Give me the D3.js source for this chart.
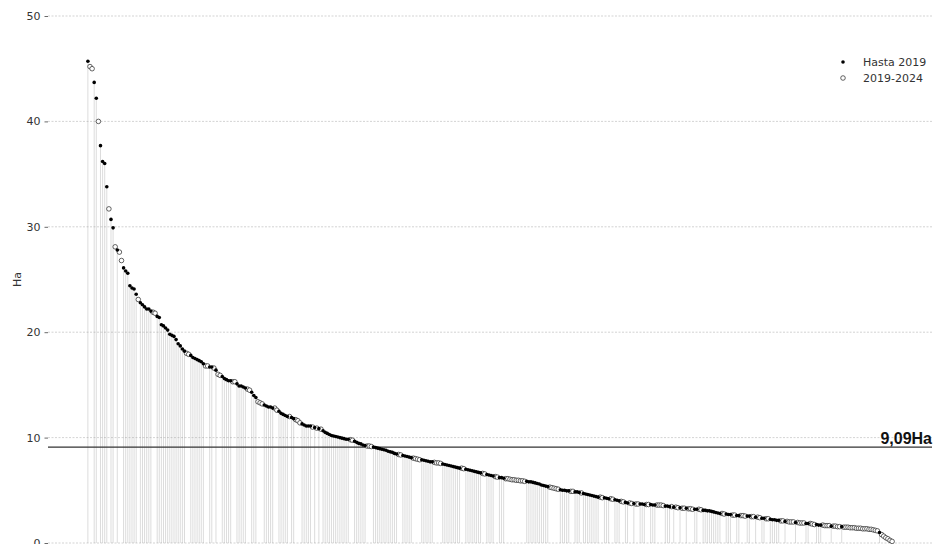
<!DOCTYPE html>
<html>
<head>
<meta charset="utf-8">
<script src="https://cdn.jsdelivr.net/npm/d3@7"></script>
<style>
  body { margin: 0; background: #fff; }
  #chart { width: 945px; height: 544px; }
  .chart-labels { font-family: "DejaVu Sans", sans-serif; font-size: 11px; fill: #333; }
</style>
</head>
<body>
<div id="chart"></div>
<script>
/* ----------------------- Data ----------------------- */
// Surface of each parcel in Ha, sorted descending
const areaHa = [
  45.7,45.2,45.0,43.7,42.2,40.0,37.7,36.2,36.0,33.8,
  31.7,30.7,29.9,28.1,27.8,27.6,26.8,26.1,25.8,25.6,
  24.4,24.2,24.1,23.6,23.1,22.8,22.6,22.4,22.2,22.2,
  22.0,21.9,21.8,21.5,21.4,20.7,20.6,20.4,20.2,19.8,
  19.7,19.6,19.3,18.9,18.7,18.4,18.2,18.0,17.9,17.8,
  17.6,17.5,17.4,17.3,17.2,17.0,16.8,16.8,16.7,16.7,
  16.6,16.4,16.0,15.9,15.8,15.6,15.5,15.4,15.4,15.3,
  15.3,15.1,14.9,14.9,14.8,14.7,14.6,14.5,14.3,14.0,
  13.8,13.4,13.3,13.2,13.1,13.0,12.9,12.9,12.8,12.8,
  12.6,12.5,12.3,12.2,12.1,12.0,12.0,11.9,11.8,11.7,
  11.6,11.4,11.3,11.2,11.1,11.1,11.1,11.0,10.95,10.9,
  10.85,10.8,10.65,10.5,10.4,10.3,10.2,10.15,10.1,10.05,
  10.0,9.95,9.9,9.85,9.85,9.8,9.75,9.65,9.55,9.45,
  9.4,9.3,9.25,9.2,9.2,9.15,9.1,9.05,9.0,8.95,
  8.9,8.85,8.8,8.7,8.65,8.6,8.5,8.45,8.4,8.35,
  8.3,8.25,8.2,8.15,8.1,8.05,8.0,7.95,7.9,7.9,
  7.85,7.8,7.75,7.7,7.7,7.65,7.6,7.6,7.55,7.5,
  7.45,7.4,7.35,7.3,7.25,7.2,7.15,7.1,7.1,7.05,
  7.0,6.95,6.9,6.85,6.8,6.75,6.7,6.65,6.6,6.55,
  6.5,6.45,6.4,6.35,6.3,6.25,6.2,6.2,6.15,6.1,
  6.1,6.05,6.0,6.0,5.95,5.95,5.9,5.9,5.85,5.85,
  5.8,5.8,5.75,5.7,5.65,5.6,5.5,5.45,5.4,5.35,
  5.3,5.25,5.2,5.15,5.1,5.05,5.0,5.0,4.95,4.95,
  4.9,4.9,4.85,4.85,4.8,4.75,4.7,4.65,4.6,4.55,
  4.5,4.45,4.4,4.35,4.35,4.3,4.3,4.25,4.2,4.2,
  4.15,4.1,4.05,4.0,3.95,3.9,3.85,3.8,3.8,3.75,
  3.75,3.7,3.7,3.7,3.7,3.65,3.65,3.65,3.65,3.6,
  3.6,3.6,3.6,3.6,3.55,3.5,3.5,3.45,3.45,3.4,
  3.4,3.35,3.35,3.3,3.3,3.3,3.25,3.25,3.2,3.2,
  3.2,3.2,3.15,3.1,3.1,3.05,3.05,3.0,2.95,2.9,
  2.85,2.8,2.8,2.75,2.75,2.7,2.7,2.65,2.65,2.6,
  2.6,2.6,2.6,2.55,2.55,2.55,2.5,2.5,2.45,2.45,
  2.4,2.35,2.35,2.3,2.3,2.25,2.2,2.2,2.15,2.15,
  2.1,2.1,2.05,2.05,2.0,2.0,2.0,1.95,1.95,1.9,
  1.9,1.9,1.85,1.85,1.85,1.8,1.75,1.75,1.7,1.7,
  1.7,1.65,1.65,1.65,1.6,1.6,1.6,1.55,1.55,1.55,
  1.5,1.5,1.5,1.45,1.45,1.45,1.4,1.4,1.4,1.35,
  1.35,1.35,1.3,1.3,1.25,1.2,1.15,1.0,0.8,0.65,
  0.5,0.4,0.25,0.15
];

// 1 = "Hasta 2019", 0 = "2019-2024"
const hasta2019 = [
  1,0,0,1,1,0,1,1,1,1, 0,1,1,0,1,0,0,1,1,1, 1,1,1,1,0,1,1,1,1,1, 1,0,0,1,1,1,1,1,1,1,
  1,1,1,1,1,1,1,0,0,1, 1,1,1,1,1,1,0,0,1,1, 0,1,0,0,1,1,1,1,1,0, 0,1,1,1,1,1,0,0,1,1,
  1,0,0,0,1,1,1,1,1,0, 0,1,1,1,1,1,0,1,1,0, 0,0,1,1,1,1,1,0,1,0, 1,0,1,1,1,1,1,1,1,1,
  1,1,1,1,1,0,0,1,1,1, 1,1,1,0,0,0,1,1,1,1, 1,1,1,1,1,1,1,1,0,0, 1,1,1,1,1,0,0,0,0,1,
  1,1,1,1,1,0,0,0,0,1, 1,1,1,1,1,1,1,1,0,0, 1,1,1,1,1,1,1,1,0,0, 1,1,1,1,0,0,1,1,1,0,
  0,0,0,0,0,0,0,0,0,1, 1,1,1,1,1,1,1,1,1,1, 0,0,0,0,0,1,1,1,1,1, 0,0,1,1,1,0,1,1,1,1,
  1,1,1,1,0,0,1,1,1,0, 0,1,1,1,0,0,1,1,0,0, 1,0,0,1,1,1,0,0,1,1, 1,0,0,0,0,1,1,1,0,1,
  0,0,1,0,0,1,0,0,0,1, 1,0,0,1,1,1,1,1,1,1, 1,1,0,0,1,1,1,0,0,1, 1,0,0,0,1,1,0,0,1,0,
  0,1,1,0,0,1,1,1,1,1, 0,0,1,0,0,0,0,1,0,0, 0,0,1,1,0,0,0,1,1,1, 0,0,0,0,1,0,0,0,0,1,
  0,0,0,0,0,0,0,0,0,0, 0,0,0,0,0,0,0,1,0,0, 0,0,0,0
];

const seriesNames = ["Hasta 2019", "2019-2024"];
const yTicks = [0, 10, 20, 30, 40, 50];
const meanHa = 9.09;
const meanLabel = "9,09Ha";
const yLabel = "Ha";

/* ----------------------- Dimensions ----------------------- */
const W = 945, H = 544;
const plot = { left: 48, right: 932, top: 16, bottom: 543 };

const svg = d3.select("#chart")
  .append("svg")
  .attr("width", W)
  .attr("height", H);

const data = areaHa.map((v, i) => ({ i: i, v: v, old: hasta2019[i] === 1 }));

/* ----------------------- Scales ----------------------- */
const pad = 19;
const x = d3.scaleLinear()
  .domain([-pad, data.length - 1 + pad])
  .range([plot.left, plot.right]);
const y = d3.scaleLinear().domain([0, 50]).range([plot.bottom, plot.top]);

// gridlines
svg.append("g")
  .selectAll("line")
  .data(yTicks)
  .enter()
  .append("line")
  .attr("x1", plot.left)
  .attr("x2", plot.right)
  .attr("y1", (d) => y(d))
  .attr("y2", (d) => y(d))
  .attr("stroke", "#c8c8c8")
  .attr("stroke-width", 0.8)
  .attr("stroke-dasharray", "2,1.5");

// y axis
const yAxisGroup = svg.append("g")
  .attr("transform", `translate(${plot.left},0)`)
  .call(d3.axisLeft(y).tickValues(yTicks).tickSize(3.5).tickPadding(4));
yAxisGroup.select(".domain").remove();
yAxisGroup.selectAll(".tick line").attr("stroke", "#444").attr("stroke-width", 0.8);
yAxisGroup.selectAll(".tick text")
  .attr("class", "chart-labels")
  .attr("fill", "#333");

svg.append("text")
  .attr("class", "chart-labels")
  .attr("text-anchor", "middle")
  .attr("transform", `translate(21,${(plot.top + plot.bottom) / 2}) rotate(-90)`)
  .text(yLabel);

/* ----------------------- Stems (only Hasta 2019) ----------------------- */
svg.append("g")
  .selectAll("line")
  .data(data.filter((d) => d.old))
  .enter()
  .append("line")
  .attr("x1", (d) => x(d.i))
  .attr("x2", (d) => x(d.i))
  .attr("y1", y(0))
  .attr("y2", (d) => y(d.v))
  .attr("stroke", "#8a8a8a")
  .attr("stroke-opacity", 0.5)
  .attr("stroke-width", 0.6);

// mean line
svg.append("line")
  .attr("x1", plot.left)
  .attr("x2", plot.right)
  .attr("y1", y(meanHa))
  .attr("y2", y(meanHa))
  .attr("stroke", "#333")
  .attr("stroke-width", 1.3);

svg.append("text")
  .attr("x", plot.right)
  .attr("y", y(meanHa) - 3)
  .attr("text-anchor", "end")
  .style("font-family", "'Liberation Sans', Arial, sans-serif")
  .style("font-weight", "bold")
  .style("font-size", "16px")
  .style("fill", "#111")
  .text(meanLabel);

/* ----------------------- Points ----------------------- */
svg.append("g")
  .selectAll("circle")
  .data(data.filter((d) => !d.old))
  .enter()
  .append("circle")
  .attr("cx", (d) => x(d.i))
  .attr("cy", (d) => y(d.v))
  .attr("r", 2.3)
  .attr("fill", "#fff")
  .attr("stroke", "#222")
  .attr("stroke-width", 0.7);

svg.append("g")
  .selectAll("circle")
  .data(data.filter((d) => d.old))
  .enter()
  .append("circle")
  .attr("cx", (d) => x(d.i))
  .attr("cy", (d) => y(d.v))
  .attr("r", 1.8)
  .attr("fill", "#000");

/* ----------------------- Legend ----------------------- */
const legend = svg.append("g").attr("transform", "translate(843,62)");
seriesNames.forEach((name, k) => {
  const g = legend.append("g").attr("transform", `translate(0,${k * 16})`);
  if (k === 0) {
    g.append("circle").attr("r", 1.8).attr("fill", "#000");
  } else {
    g.append("circle").attr("r", 2.3).attr("fill", "#fff")
      .attr("stroke", "#222").attr("stroke-width", 0.7);
  }
  g.append("text")
    .attr("class", "chart-labels")
    .attr("x", 20)
    .attr("dy", "0.35em")
    .text(name);
});
</script>
</body>
</html>
